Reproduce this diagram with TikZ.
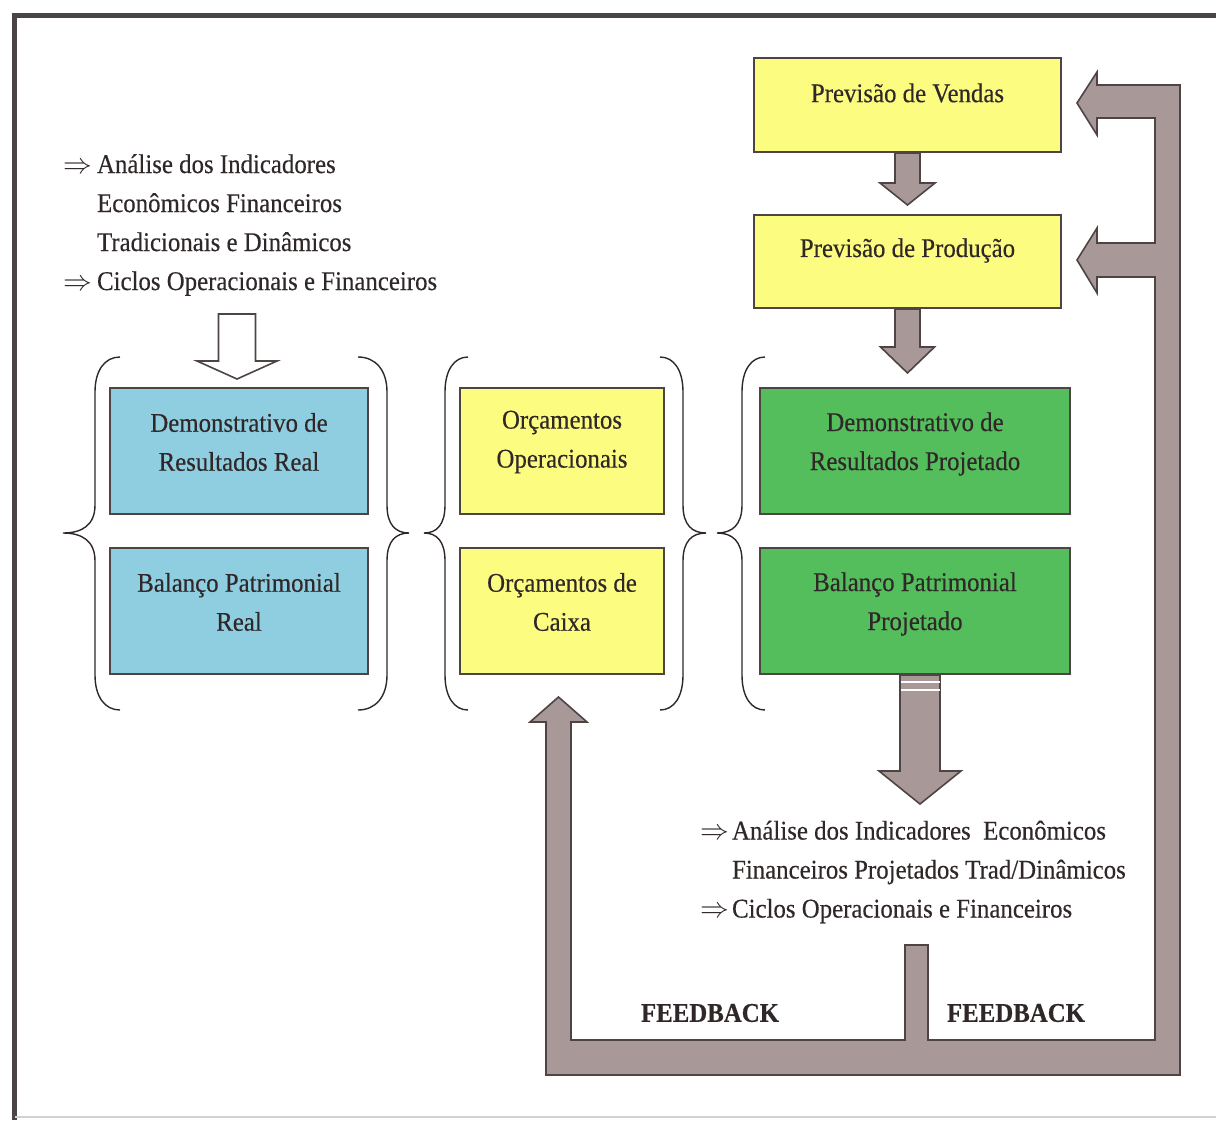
\documentclass[tikz,border=0pt]{standalone}
\usepackage{fontspec}
\setmainfont{Liberation Serif}[FakeStretch=0.92, FakeBold=0.35]
\usetikzlibrary{calc}
\definecolor{ink}{RGB}{48,40,40}
\definecolor{edge}{RGB}{78,68,68}
\definecolor{yel}{RGB}{252,252,128}
\definecolor{blu}{RGB}{143,206,224}
\definecolor{grn}{RGB}{84,190,92}
\definecolor{argray}{RGB}{168,152,152}
\definecolor{framecol}{RGB}{75,68,68}
\newcommand\dnarrow[6][argray]{%
  \path[blockarrow, fill=#1] ($#2+(-#3,0)$) -- ($#2+(#3,0)$) -- ($#2+(#3,#5)$) -- ($#2+(#4,#5)$)
    -- ($#2+(0,#6)$) -- ($#2+(-#4,#5)$) -- ($#2+(-#3,#5)$) -- cycle;}
\newcommand\gbrace[3]{%
  \draw[bracestyle] (#1,357) .. controls ({0.4*#1+0.6*#2},357) and (#2,370) .. (#2,392)
    -- (#2,505) .. controls (#2,525) and ({0.6*#2+0.4*#3},533) .. (#3,533)
    .. controls ({0.6*#2+0.4*#3},533) and (#2,541) .. (#2,561)
    -- (#2,675) .. controls (#2,697) and ({0.4*#1+0.6*#2},710) .. (#1,710);}
\begin{document}
\begin{tikzpicture}[x=0.5pt,y=-0.5pt,
  txt/.style={text=ink, font=\fontsize{13.5}{19.5}\selectfont, align=center},
  boldtxt/.style={text=ink, font=\fontsize{13.5}{19.5}\selectfont\bfseries},
  box/.style={draw=edge, line width=1pt, inner sep=0pt},
  ybox/.style={box, fill=yel},
  bbox/.style={box, fill=blu},
  gbox/.style={box, fill=grn},
  blockarrow/.style={draw=edge, line width=0.8pt, line join=miter},
  bracestyle/.style={draw=ink, line width=0.7pt}]
\useasboundingbox (0,0) rectangle (1216,1120);
\fill[white] (0,0) rectangle (1216,1120);
% frame
\draw[framecol, line width=2.5pt] (14.5,1120) -- (14.5,15) -- (1216,15);
\draw[gray!35, line width=0.6pt] (14.5,1117) -- (1216,1117);

% boxes
\node[ybox, minimum width=153.5pt, minimum height=47pt,
  label={[txt,yshift=6pt]center:Previsão de Vendas}] (vendas) at (907.5,105) {};
\node[ybox, minimum width=153.5pt, minimum height=46.5pt,
  label={[txt,yshift=5.5pt]center:Previsão de Produção}] (producao) at (907.5,261.5) {};
\node[bbox, minimum width=129pt, minimum height=63pt,
  label={[txt,yshift=4.5pt]center:{Demonstrativo de\\Resultados Real}}] (demreal) at (239,451) {};
\node[bbox, minimum width=129pt, minimum height=63pt,
  label={[txt,yshift=4.5pt]center:{Balanço Patrimonial\\Real}}] (balreal) at (239,611) {};
\node[ybox, minimum width=102pt, minimum height=63pt,
  label={[txt,yshift=4.5pt]center:{Orçamentos\\Operacionais}}] (orcop) at (562,451) {};
\node[ybox, minimum width=102pt, minimum height=63pt,
  label={[txt,yshift=4.5pt]center:{Orçamentos de\\Caixa}}] (orccx) at (562,611) {};
\node[gbox, minimum width=155pt, minimum height=63pt,
  label={[txt,yshift=3.5pt]center:{Demonstrativo de\\Resultados Projetado}}] (demproj) at (915,451) {};
\node[gbox, minimum width=155pt, minimum height=63pt,
  label={[txt,yshift=3.5pt]center:{Balanço Patrimonial\\Projetado}}] (balproj) at (915,611) {};

% braces
\gbrace{120}{95}{63}
\gbrace{358}{387}{409}
\gbrace{468}{445}{424}
\gbrace{660}{683}{706}
\gbrace{765}{742}{717}

% notes
\node[txt, align=left, anchor=west] (leftnotes) at (56,225)
  {\makebox[17pt][l]{$\Rightarrow$}Análise dos Indicadores\\
   \hspace*{17pt}Econômicos Financeiros\\
   \hspace*{17pt}Tradicionais e Dinâmicos\\
   \makebox[17pt][l]{$\Rightarrow$}Ciclos Operacionais e Financeiros};
\node[txt, align=left, anchor=west] (rightnotes) at (693,872)
  {\makebox[16pt][l]{$\Rightarrow$}Análise dos Indicadores\ \ Econômicos\\
   \hspace*{16pt}Financeiros Projetados Trad/Dinâmicos\\
   \makebox[16pt][l]{$\Rightarrow$}Ciclos Operacionais e Financeiros};

% hollow arrow from notes to real statements
\coordinate (hollowtop) at ($(demreal.north)+(-2,-73)$);
\dnarrow[white]{(hollowtop)}{18.5}{40}{47}{65}

% vertical flow arrows
\dnarrow{(vendas.south)}{12.5}{27.5}{30}{52}
\dnarrow{(producao.south)}{12.5}{27}{38}{64}
\coordinate (bigtop) at ($(balproj.south)+(5,0)$);
\dnarrow{(bigtop)}{20}{41}{96}{129}
\draw[white, line width=1pt] ($(bigtop)+(-19.5,7)$) -- ($(bigtop)+(19.5,7)$);
\draw[white, line width=1pt] ($(bigtop)+(-19.5,15)$) -- ($(bigtop)+(19.5,15)$);

% feedback loop
\path[blockarrow, fill=argray]
  (1077,103) -- (1097,72) -- (1097,85) -- (1180,85) -- (1180,1075) -- (546,1075)
  -- (546,722) -- (530,722) -- (558.5,697) -- (587,722) -- (571,722) -- (571,1040)
  -- (905,1040) -- (905,945) -- (928,945) -- (928,1040) -- (1155,1040)
  -- (1155,277) -- (1097,277) -- (1097,293) -- (1077,260) -- (1097,228) -- (1097,243)
  -- (1155,243) -- (1155,118) -- (1097,118) -- (1097,135) -- cycle;

\node[boldtxt] (fb1) at (710,1013) {FEEDBACK};
\node[boldtxt] (fb2) at (1016,1013) {FEEDBACK};
\end{tikzpicture}
\end{document}
